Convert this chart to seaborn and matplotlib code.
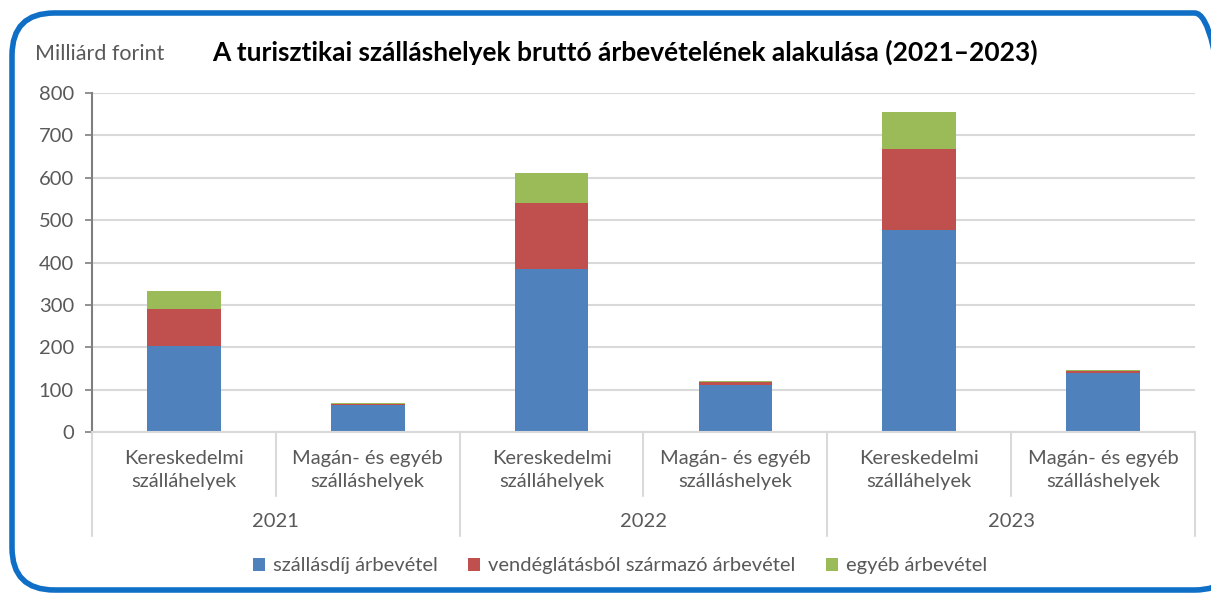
import seaborn as sns
from matplotlib import pyplot as plt
from matplotlib.patches import FancyBboxPatch, Patch
import pandas as pd

# data (milliárd forint)
years = ['2021', '2022', '2023']
types = ['Kereskedelmi\nszálláhelyek', 'Magán- és egyéb\nszálláshelyek']
szallasdij = [203, 63, 384, 111, 476, 140]
vendeglatas = [87, 3.5, 156, 6, 193, 5]
egyeb = [43, 2, 71, 2.5, 87, 2]
series_names = ['szállásdíj árbevétel', 'vendéglátásból származó árbevétel', 'egyéb árbevétel']
colors = ['#4F81BD', '#C0504D', '#9BBB59']

keys = [y + '|' + t for y in years for t in types]
df = pd.DataFrame({'key': keys, 'a': szallasdij, 'b': vendeglatas, 'c': egyeb})
df['ab'] = df['a'] + df['b']
df['abc'] = df['ab'] + df['c']

sns.set_style("white")
plt.rcParams['font.family'] = ['Lato', 'DejaVu Sans']

fig = plt.figure(figsize=(12.11, 5.93), dpi=100)
W, H = 1211, 593

# rounded blue frame (right side runs off the picture)
frame = FancyBboxPatch((12 / W, 3 / H), 1225 / W, 577 / H,
                       boxstyle="round,pad=0,rounding_size=0.035",
                       transform=fig.transFigure, fill=False,
                       edgecolor='#0F6FC6', linewidth=4, zorder=0,
                       mutation_aspect=W / H)
fig.patches.append(frame)

ax = fig.add_axes([92 / W, 161 / H, 1103 / W, 339 / H])

# stacked bars: draw cumulative totals back to front
for col, c in zip(['abc', 'ab', 'a'], colors[::-1]):
    sns.barplot(data=df, x='key', y=col, color=c, width=0.4, ax=ax, order=keys,
                saturation=1, linewidth=0)

ax.set_xlim(-0.5, 5.5)
ax.set_ylim(0, 800)
ax.set_yticks(range(0, 801, 100))
ax.yaxis.grid(True, color='#D9D9D9', linewidth=1.5)
ax.set_axisbelow(True)
ax.tick_params(axis='y', labelsize=14.5, length=5, width=1.2, pad=8,
               left=True, labelcolor='#595959', color='#7F7F7F')
ax.set_xticks([])
ax.set_xlabel('')
ax.set_ylabel('')
for s in ['top', 'right']:
    ax.spines[s].set_visible(False)
ax.spines['left'].set_color('#7F7F7F')
ax.spines['left'].set_linewidth(1.5)
ax.spines['bottom'].set_color('#D9D9D9')
ax.spines['bottom'].set_linewidth(1.5)

# multi-level category axis
trans = ax.get_xaxis_transform()
for i, x in enumerate([-0.5, 0.5, 1.5, 2.5, 3.5, 4.5, 5.5]):
    low = -0.307 if i % 2 == 0 else -0.189
    ax.plot([x, x], [0, low], transform=trans, color='#D9D9D9', lw=1.5, clip_on=False)
for i, k in enumerate(keys):
    ax.text(i, -0.112, k.split('|')[1], transform=trans, ha='center', va='center',
            fontsize=14.5, color='#595959', linespacing=1.45)
for j, y in enumerate(years):
    ax.text(2 * j + 0.5, -0.265, y, transform=trans, ha='center', va='center',
            fontsize=14.5, color='#595959')

fig.text(35 / W, 1 - 54 / H, 'Milliárd forint', ha='left', va='center',
         fontsize=15.5, color='#595959')
fig.text(625 / W, 1 - 52 / H, 'A turisztikai szálláshelyek bruttó árbevételének alakulása (2021–2023)',
         ha='center', va='center', fontsize=19, fontweight='bold', color='black')

handles = [Patch(facecolor=c, edgecolor='none') for c in colors]
fig.legend(handles, series_names, loc='center', bbox_to_anchor=(620 / W, 1 - 566 / H),
           ncol=3, frameon=False, fontsize=14.5, labelcolor='#595959',
           handlelength=0.6, handleheight=0.6, handletextpad=0.4, columnspacing=1.5)

plt.savefig('out.png', dpi=100)
